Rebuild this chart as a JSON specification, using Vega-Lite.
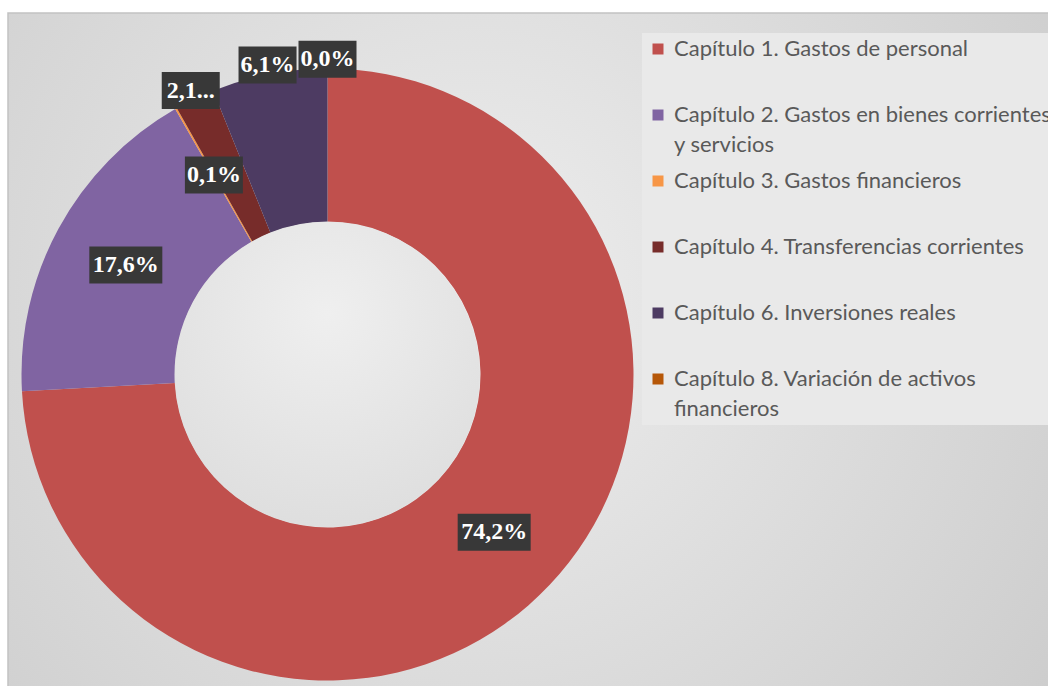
{
  "$schema": "https://vega.github.io/schema/vega-lite/v6.json",
  "width": 1042,
  "height": 675,
  "autosize": {"type": "none"},
  "padding": {"left": 8, "top": 13, "right": 0, "bottom": 0},
  "background": "#ffffff",
  "config": {
    "view": {"stroke": null},
    "style": {"guide-label": {"lineHeight": 30}}
  },
  "data": {
    "values": [
      {"idx": 1, "cat": "Capítulo 1. Gastos de personal", "value": 74.2, "label": "74,2%"},
      {"idx": 2, "cat": "Capítulo 2. Gastos en bienes corrientes y servicios", "value": 17.6, "label": "17,6%"},
      {"idx": 3, "cat": "Capítulo 3. Gastos financieros", "value": 0.1, "label": "0,1%"},
      {"idx": 4, "cat": "Capítulo 4. Transferencias corrientes", "value": 2.1, "label": "2,1..."},
      {"idx": 5, "cat": "Capítulo 6. Inversiones reales", "value": 6.1, "label": "6,1%"},
      {"idx": 6, "cat": "Capítulo 8. Variación de activos financieros", "value": 0.0, "label": "0,0%"}
    ]
  },
  "layer": [
    {
      "data": {"values": [{"k": 1}]},
      "mark": {
        "type": "rect",
        "fill": {
          "gradient": "radial",
          "x1": 0.45, "y1": 0.45, "r1": 0,
          "x2": 0.45, "y2": 0.45, "r2": 0.75,
          "stops": [
            {"offset": 0, "color": "#eeeeee"},
            {"offset": 1, "color": "#c9c9c9"}
          ]
        },
        "stroke": "#c2c2c2",
        "strokeWidth": 1.5
      },
      "encoding": {
        "x": {"value": 0},
        "x2": {"value": "width"},
        "y": {"value": 0},
        "y2": {"value": "height"}
      }
    },
    {
      "mark": {"type": "arc", "innerRadius": 153, "outerRadius": 306},
      "encoding": {
        "x": {"datum": 0, "type": "quantitative", "scale": {"domain": [-1.04412, 2.36111], "nice": false, "zero": false}, "axis": null},
        "y": {"datum": 0, "type": "quantitative", "scale": {"domain": [-1.02451, 1.18137], "nice": false, "zero": false}, "axis": null},
        "theta": {"field": "value", "type": "quantitative", "stack": true},
        "order": {"field": "idx", "type": "quantitative"},
        "color": {
          "field": "cat",
          "type": "nominal",
          "scale": {
            "domain": [
              "Capítulo 1. Gastos de personal",
              "Capítulo 2. Gastos en bienes corrientes y servicios",
              "Capítulo 3. Gastos financieros",
              "Capítulo 4. Transferencias corrientes",
              "Capítulo 6. Inversiones reales",
              "Capítulo 8. Variación de activos financieros"
            ],
            "range": ["#c0504d", "#8064a2", "#f79646", "#772c2a", "#4d3b62", "#b65708"]
          },
          "legend": {
            "title": null,
            "orient": "none",
            "legendX": 634,
            "legendY": 20,
            "padding": 5,
            "fillColor": "#e9e9e9",
            "symbolType": "square",
            "symbolSize": 121,
            "symbolStrokeWidth": 0,
            "labelFont": "Lato",
            "labelFontSize": 22,
            "labelColor": "#595959",
            "labelOffset": 5,
            "labelLimit": 1000,
            "gridAlign": "all",
            "rowPadding": 14,
            "labelExpr": "datum.label == 'Capítulo 2. Gastos en bienes corrientes y servicios' ? ['Capítulo 2. Gastos en bienes corrientes', 'y servicios'] : datum.label == 'Capítulo 8. Variación de activos financieros' ? ['Capítulo 8. Variación de activos', 'financieros'] : datum.label"
          }
        }
      }
    },
    {
      "data": {"values": [{"k": 1}]},
      "mark": {
        "type": "point",
        "shape": "circle",
        "filled": true,
        "size": 93025,
        "opacity": 1,
        "strokeWidth": 0,
        "fill": {
          "gradient": "radial",
          "x1": 0.5, "y1": 0.3, "r1": 0,
          "x2": 0.5, "y2": 0.3, "r2": 0.8,
          "stops": [
            {"offset": 0, "color": "#efefef"},
            {"offset": 1, "color": "#dcdcdc"}
          ]
        }
      },
      "encoding": {
        "x": {"datum": 0, "type": "quantitative"},
        "y": {"datum": 0, "type": "quantitative"}
      }
    },
    {
      "transform": [
        {"joinaggregate": [{"op": "sum", "field": "value", "as": "total"}]},
        {"window": [{"op": "sum", "field": "value", "as": "cum"}], "sort": [{"field": "idx", "order": "ascending"}], "frame": [null, 0]},
        {"calculate": "2*PI*(datum.cum - datum.value/2)/datum.total", "as": "mid"},
        {"calculate": "datum.idx >= 4 ? 1.03 : 0.75", "as": "r"},
        {"calculate": "datum.r*sin(datum.mid)", "as": "lx"},
        {"calculate": "datum.r*cos(datum.mid)", "as": "ly"}
      ],
      "layer": [
        {
          "transform": [{"filter": "length(datum.label) == 5"}],
          "mark": {"type": "point", "filled": true, "shape": "M-1,-0.507H1V0.507H-1Z", "size": 5329, "color": "#383838", "opacity": 1},
          "encoding": {
            "x": {"field": "lx", "type": "quantitative"},
            "y": {"field": "ly", "type": "quantitative"}
          }
        },
        {
          "transform": [{"filter": "length(datum.label) != 5"}],
          "mark": {"type": "point", "filled": true, "shape": "M-1,-0.638H1V0.638H-1Z", "size": 3364, "color": "#383838", "opacity": 1},
          "encoding": {
            "x": {"field": "lx", "type": "quantitative"},
            "y": {"field": "ly", "type": "quantitative"}
          }
        },
        {
          "mark": {"type": "text", "font": "Liberation Serif", "fontWeight": "bold", "fontSize": 24, "color": "#ffffff", "align": "center", "baseline": "middle"},
          "encoding": {
            "x": {"field": "lx", "type": "quantitative"},
            "y": {"field": "ly", "type": "quantitative"},
            "text": {"field": "label", "type": "nominal"}
          }
        }
      ]
    }
  ]
}
